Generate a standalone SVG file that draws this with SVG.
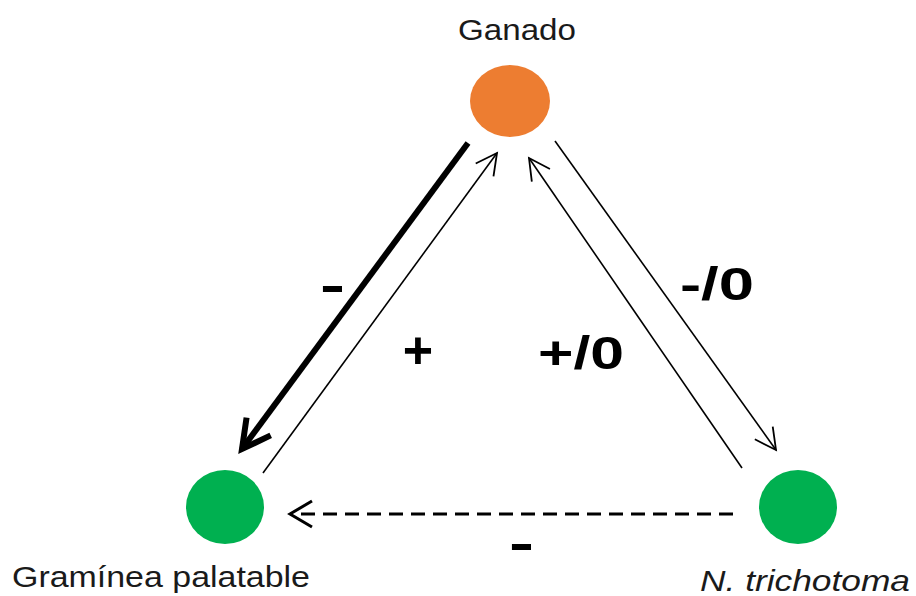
<svg xmlns="http://www.w3.org/2000/svg" width="916" height="596" viewBox="0 0 916 596">
<style>
.lbl{font-family:"Liberation Sans",Arial,sans-serif;font-size:29px;fill:#1a1a1a}
.sign{font-family:"Liberation Sans",Arial,sans-serif;font-weight:bold;fill:#000}
.thin{stroke:#000;stroke-width:1.6;fill:none}
</style>
<defs>
<marker id="hThin" markerUnits="userSpaceOnUse" orient="auto" overflow="visible" refX="0" refY="0" markerWidth="1" markerHeight="1">
<path d="M-21,-11 L0,0 L-21,11" fill="none" stroke="#000" stroke-width="1.8"/>
</marker>
<marker id="hThick" markerUnits="userSpaceOnUse" orient="auto" overflow="visible" refX="0" refY="0" markerWidth="1" markerHeight="1">
<path d="M-28,-15 L0,0 L-28,15" fill="none" stroke="#000" stroke-width="6"/>
</marker>
<marker id="hDash" markerUnits="userSpaceOnUse" orient="auto" overflow="visible" refX="0" refY="0" markerWidth="1" markerHeight="1">
<path d="M-22,-13 L0,0 L-22,13" fill="none" stroke="#000" stroke-width="3"/>
</marker>
</defs>
<g id="connectors">
<line x1="468" y1="143" x2="242" y2="449" stroke="#000" stroke-width="6" marker-end="url(#hThick)"/>
<line class="thin" x1="263" y1="473" x2="497" y2="153" marker-end="url(#hThin)"/>
<line class="thin" x1="555" y1="141" x2="776" y2="450" marker-end="url(#hThin)"/>
<line class="thin" x1="742" y1="468" x2="529" y2="158" marker-end="url(#hThin)"/>
<line x1="733" y1="514" x2="290" y2="514" stroke="#000" stroke-width="3" stroke-dasharray="14 8" marker-end="url(#hDash)"/>
</g>
<g id="ganado">
<ellipse cx="510" cy="101" rx="40" ry="36" fill="#ED7D31"/>
<text class="lbl" x="517" y="40" text-anchor="middle" textLength="118" lengthAdjust="spacingAndGlyphs">Ganado</text>
</g>
<g id="graminea">
<ellipse cx="225" cy="507" rx="39" ry="37" fill="#00B050"/>
<text class="lbl" x="12" y="587" textLength="298" lengthAdjust="spacingAndGlyphs">Gramínea palatable</text>
</g>
<g id="trichotoma">
<ellipse cx="798" cy="507" rx="39" ry="37" fill="#00B050"/>
<text class="lbl" x="700" y="591" font-style="italic" textLength="210" lengthAdjust="spacingAndGlyphs">N. trichotoma</text>
</g>
<g id="labels">
<text class="sign" x="320" y="302" font-size="50" textLength="25" lengthAdjust="spacingAndGlyphs">-</text>
<text class="sign" x="418" y="368" font-size="52" text-anchor="middle">+</text>
<text class="sign" x="581" y="369" font-size="46" text-anchor="middle" textLength="86" lengthAdjust="spacingAndGlyphs">+/0</text>
<text class="sign" x="717" y="300" font-size="46" text-anchor="middle" textLength="74" lengthAdjust="spacingAndGlyphs">-/0</text>
<text class="sign" x="509" y="560" font-size="50" textLength="25" lengthAdjust="spacingAndGlyphs">-</text>
</g>
</svg>
